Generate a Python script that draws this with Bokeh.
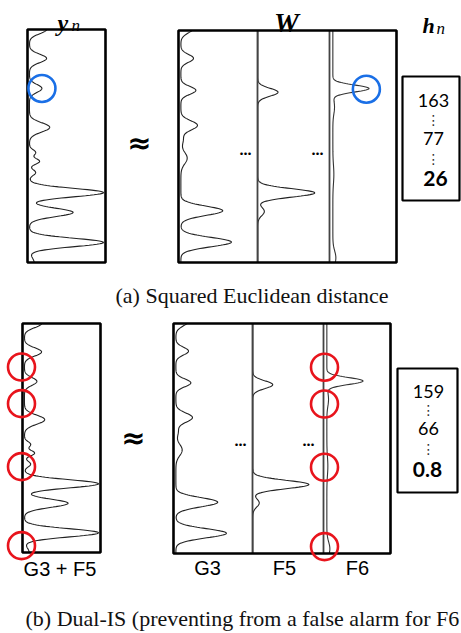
import numpy as np
from bokeh.plotting import figure
from bokeh.models import Range1d
from bokeh.core.properties import value
from bokeh.embed import file_html
from bokeh.resources import INLINE

# ---------------- data (normalised: f = frequency 0..1 top->bottom, a = amplitude as fraction of column width)
yn_peak_f = [0.0, 0.124, 0.253, 0.42, 0.528, 0.566, 0.614, 0.70, 0.785, 0.914, 1.0]
yn_peak_a = [0.22, 0.22, 0.16, 0.26, 0.08, 0.13, 0.08, 0.95, 0.56, 0.95, 0.06]
yn_peak_w = [0.018, 0.018, 0.017, 0.02, 0.012, 0.012, 0.012, 0.018, 0.018, 0.018, 0.02]
yn_base = 0.025

g3_peak_f = [-0.01, 0.12, 0.258, 0.409, 0.47, 0.55, 0.777, 0.912]
g3_peak_a = [0.16, 0.16, 0.19, 0.21, 0.03, 0.08, 0.53, 0.64]
g3_peak_w = [0.02, 0.017, 0.017, 0.02, 0.02, 0.025, 0.02, 0.02]
g3_base = 0.03

f5_peak_f = [0.266, 0.70, 0.78]
f5_peak_a = [0.28, 0.79, 0.09]
f5_peak_w = [0.017, 0.018, 0.018]
f5_base = 0.005

f6_peak_f = [0.25, 0.33, 0.62, 0.98]
f6_peak_a = [0.54, 0.025, 0.015, 0.045]
f6_peak_w = [0.015, 0.03, 0.04, 0.03]
f6_base = 0.05

top_values = ["163", "77", "26"]
bot_values = ["159", "66", "0.8"]
red_marks_f = [0.19, 0.35, 0.625, 0.97]
blue_mark_f = 0.253

bottom_labels = ["G3", "F5", "F6"]
mixture_label = "G3 + F5"
caption_a = "(a) Squared Euclidean distance"
caption_b = "(b) Dual-IS (preventing from a false alarm for F6"

# ---------------- figure (page coordinates: x 0..461, y 0..633 from top)
p = figure(width=461, height=633, x_range=Range1d(0, 461), y_range=Range1d(633, 0),
           output_backend="svg", toolbar_location=None, x_axis_type=None, y_axis_type=None,
           min_border=0, background_fill_color="white", border_fill_color="white")
p.grid.visible = False
p.outline_line_color = None

fgrid = np.linspace(0, 1, 500)


def spec(pf, pa, pw, base):
    s = np.full_like(fgrid, base)
    for c, a, w in zip(pf, pa, pw):
        s = s + a * np.exp(-0.5 * ((fgrid - c) / w) ** 2)
    return s


def spec_at(f, pf, pa, pw, base):
    return base + sum(a * np.exp(-0.5 * ((f - c) / w) ** 2) for c, a, w in zip(pf, pa, pw))


yn = spec(yn_peak_f, yn_peak_a, yn_peak_w, yn_base)
g3 = spec(g3_peak_f, g3_peak_a, g3_peak_w, g3_base)
f5 = spec(f5_peak_f, f5_peak_a, f5_peak_w, f5_base)
f6 = spec(f6_peak_f, f6_peak_a, f6_peak_w, f6_base)

CURVE = "#222222"
SERIF = value("Liberation Serif")
SANS = value("Liberation Sans")
NUM = value("Lato")


def draw_curve(s, left, right, top, bottom, color=CURVE, lw=1.1):
    xs = left + s * (right - left)
    ys = top + fgrid * (bottom - top)
    p.line(xs, ys, line_color=color, line_width=lw)


def panel(yn_box, w_box, divs, hbox):
    l, r, t, b = yn_box
    draw_curve(yn, l, r, t, b)
    p.quad(left=[l], right=[r], top=[t], bottom=[b], fill_color=None, line_color="black", line_width=2.6)
    L, R, T, B = w_box
    d1, d2 = divs
    draw_curve(g3, L, d1, T, B)
    draw_curve(f5, d1, d2, T, B)
    draw_curve(f6, d2, R, T, B, color="#333333")
    p.segment(x0=[d1, d2], y0=[T, T], x1=[d1, d2], y1=[B, B], line_color="#444444", line_width=1.8)
    p.quad(left=[L], right=[R], top=[T], bottom=[B], fill_color=None, line_color="black", line_width=2.6)
    hl, hr, ht, hb = hbox
    p.quad(left=[hl], right=[hr], top=[ht], bottom=[hb], fill_color=None, line_color="black", line_width=2.2)
    return (l, r, t, b), (L, R, T, B), (d1, d2)


# ---------------- top panel (a)
(ya, yb_, yc, yd), (WL, WR, WT, WB), (D1, D2) = panel((27, 105, 29, 262), (178, 396, 30, 262), (257, 329),
                                                      (402, 459, 76, 200))
bx_y = ya + spec_at(blue_mark_f, yn_peak_f, yn_peak_a, yn_peak_w, yn_base) * (yb_ - ya)
by_y = yc + blue_mark_f * (yd - yc)
bx_w = D2 + spec_at(blue_mark_f, f6_peak_f, f6_peak_a, f6_peak_w, f6_base) * (WR - D2) - 2
by_w = WT + blue_mark_f * (WB - WT)
p.scatter([bx_y, bx_w], [by_y, by_w], marker="circle", size=27, fill_color=None,
          line_color="#1a6fe6", line_width=2.6)

p.text([57], [22], text=["y"], text_font=SERIF, text_font_style="bold italic", text_font_size="24px",
       text_align="left", text_baseline="alphabetic", text_color="black")
p.text([71], [25], text=["n"], text_font=SERIF, text_font_style="italic", text_font_size="17px",
       text_align="left", text_baseline="alphabetic", text_color="black")
p.text([286], [22], text=["W"], text_font=SERIF, text_font_style="bold italic", text_font_size="28px",
       text_align="center", text_baseline="alphabetic", text_color="black")
p.text([422], [25], text=["h"], text_font=SERIF, text_font_style="bold italic", text_font_size="22px",
       text_align="left", text_baseline="alphabetic", text_color="black")
p.text([436], [28], text=["n"], text_font=SERIF, text_font_style="italic", text_font_size="17px",
       text_align="left", text_baseline="alphabetic", text_color="black")
p.text([139], [142], text=["≈"], text_font=value("DejaVu Sans"), text_font_style="bold", text_font_size="29px",
       text_align="center", text_baseline="middle", text_color="black")
p.text([245, 317], [148, 148], text=["...", "..."], text_font=NUM, text_font_style="bold", text_font_size="17px",
       text_align="center", text_baseline="alphabetic", text_color="black")
p.text([433, 433], [99.5, 137.5], text=top_values[:2], text_font=NUM, text_font_size="18px",
       text_align="center", text_baseline="middle", text_color="black")
p.text([435], [178], text=[top_values[2]], text_font=NUM, text_font_style="bold", text_font_size="21px",
       text_align="center", text_baseline="middle", text_color="black")
p.text([433, 433], [119, 158], text=["⋮", "⋮"], text_font=value("DejaVu Sans"), text_font_size="14px",
       text_align="center", text_baseline="middle", text_color="#333333")
p.text([115], [295], text=[caption_a], text_font=SERIF, text_font_size="22px",
       text_align="left", text_baseline="middle", text_color="#111111")

# ---------------- bottom panel (b)
(ya, yb_, yc, yd), (WL, WR, WT, WB), (D1, D2) = panel((22, 100, 323, 552), (173, 390, 323, 553), (252, 323),
                                                      (397, 457, 368, 492))
rx = [ya - 1] * len(red_marks_f) + [D2 + 1] * len(red_marks_f)
ry = [yc + f * (yd - yc) for f in red_marks_f] + [WT + f * (WB - WT) for f in red_marks_f]
p.scatter(rx, ry, marker="circle", size=27, fill_color=None, line_color="#e8141c", line_width=2.6)

p.text([133], [437], text=["≈"], text_font=value("DejaVu Sans"), text_font_style="bold", text_font_size="29px",
       text_align="center", text_baseline="middle", text_color="black")
p.text([240, 308], [439, 439], text=["...", "..."], text_font=NUM, text_font_style="bold", text_font_size="17px",
       text_align="center", text_baseline="alphabetic", text_color="black")
p.text([428, 428], [391, 428], text=bot_values[:2], text_font=NUM, text_font_size="18px",
       text_align="center", text_baseline="middle", text_color="black")
p.text([427], [469], text=[bot_values[2]], text_font=NUM, text_font_style="bold", text_font_size="21px",
       text_align="center", text_baseline="middle", text_color="black")
p.text([428, 428], [409, 448], text=["⋮", "⋮"], text_font=value("DejaVu Sans"), text_font_size="14px",
       text_align="center", text_baseline="middle", text_color="#333333")
p.text([59.5], [568.5], text=[mixture_label], text_font=SANS, text_font_size="20px",
       text_align="center", text_baseline="middle", text_color="black")
p.text([207, 284, 357], [567.5, 567.5, 567.5], text=bottom_labels, text_font=SANS, text_font_size="20px",
       text_align="center", text_baseline="middle", text_color="black")
p.text([25], [618], text=[caption_b], text_font=SERIF, text_font_size="22px",
       text_align="left", text_baseline="middle", text_color="#111111")

open("out.html", "w").write(file_html(p, INLINE))
